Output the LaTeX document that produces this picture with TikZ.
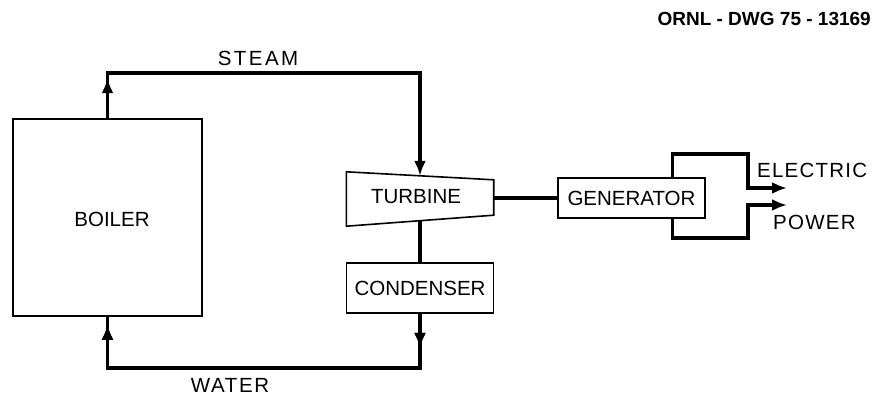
\documentclass[tikz,border=0pt]{standalone}
\usepackage{fontspec}
\setmainfont{Liberation Sans}
\usetikzlibrary{arrows.meta,decorations.markings,calc}
\begin{document}
\begin{tikzpicture}[x=1pt,y=1pt,
  txt/.style={font=\fontsize{20.5}{22}\selectfont, inner sep=0pt},
  box/.style={txt, draw, line width=1.6pt},
  flow/.style={line width=3.2pt},
  head/.style={-{Latex[length=15pt,width=12pt]}},
  midarrow/.style={postaction=decorate, decoration={markings, mark=at position #1 with {\arrow{Latex[length=15pt,width=12pt]}}}},
  ]
\useasboundingbox (0,0) rectangle (874,400);
% components
\node[box, minimum width=189pt, minimum height=197pt] (boiler) at (107.5,182.5) {};
\node[txt] (boilerlbl) at (112,181) {BOILER};
\node[txt, minimum width=147pt, minimum height=54pt] (turbine) at (420,201) {};
\node[txt] (turbinelbl) at (416,203) {TURBINE};
\draw[line width=1.6pt] (turbine.north west) -- ($(turbine.north east)+(0,-8)$) -- ($(turbine.south east)+(0,11)$) -- (turbine.south west) -- cycle;
\node[box, minimum width=147pt, minimum height=50pt] (condenser) at (420,112) {CONDENSER};
\node[box, minimum width=147pt, minimum height=40pt] (generator) at (631.5,202) {GENERATOR};
% labels
\node[txt, font=\fontsize{20.5}{22}\selectfont\addfontfeature{LetterSpace=12}] (steam) at (258,342) {STEAM};
\node[txt, font=\fontsize{20.5}{22}\selectfont\addfontfeature{LetterSpace=8}] (water) at (230,15) {WATER};
\node[txt, anchor=west, font=\fontsize{20.5}{22}\selectfont\addfontfeature{LetterSpace=6}] (electric) at (757,230) {ELECTRIC};
\node[txt, anchor=west, font=\fontsize{20.5}{22}\selectfont\addfontfeature{LetterSpace=6}] (power) at (773,178) {POWER};
\node[inner sep=0pt, anchor=east, font=\fontsize{19}{21}\selectfont\bfseries] (title) at (871,381) {ORNL - DWG 75 - 13169};
% steam loop
\coordinate (tin) at ($(turbine.north)+(0,-4)$);
\draw[flow, head, midarrow=40pt] (boiler.north) -- (boiler.north |- 0,327) -- (tin |- 0,327) -- (tin);
\coordinate (tout) at ($(turbine.south)+(0,5)$);
\draw[flow] (tout) -- (condenser.north);
\draw[flow, midarrow=34pt, midarrow=-8pt] (condenser.south) -- (condenser.south |- 0,32) -- (boiler.south |- 0,32) -- (boiler.south);
% shaft
\draw[flow] (turbine.east |- generator.west) -- (generator.west);
% electric power
\coordinate (gtop) at ($(generator.north west)+(115.5,0)$);
\coordinate (gbot) at ($(generator.south west)+(115.5,0)$);
\coordinate (e1) at (787,212);
\coordinate (e2) at (787,195);
\draw[flow, head] (gtop) -- (gtop |- 0,246) -- (748,246) -- (748,212) -- (e1);
\draw[flow, head] (gbot) -- (gbot |- 0,162) -- (748,162) -- (748,195) -- (e2);
\end{tikzpicture}
\end{document}
